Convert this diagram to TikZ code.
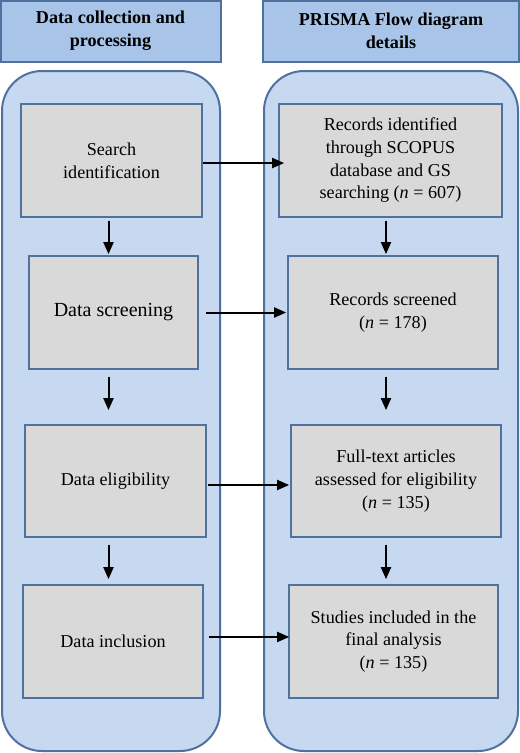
\documentclass[tikz,border=0pt]{standalone}
\usepackage{fontspec}
\setmainfont{Liberation Serif}
\usetikzlibrary{arrows.meta,positioning}
\definecolor{headblue}{RGB}{168,196,232}
\definecolor{panelblue}{RGB}{198,217,240}
\definecolor{edgeblue}{RGB}{79,113,160}
\definecolor{boxgray}{RGB}{217,217,217}
\tikzset{
	head/.style={draw=edgeblue,fill=headblue,line width=1.5pt,align=center,font=\bfseries\fontsize{13.6}{17}\selectfont},
	panel/.style={draw=edgeblue,fill=panelblue,line width=1.5pt,rounded corners=30pt},
	stage/.style={draw=edgeblue,fill=boxgray,line width=1.3pt,align=center,font=\fontsize{13.6}{17}\selectfont},
	arr/.style={line width=1.5pt,-{Triangle[length=9pt,width=7.5pt]}}
}
\begin{document}
\begin{tikzpicture}[x=0.75pt,y=0.75pt,yscale=-1,xscale=1]
		\useasboundingbox (0,0) rectangle (520,753);
		
		%Shape: Header
		\node[head,minimum width=165pt,minimum height=45.75pt] (hl) at (110.5,31) {Data collection and\\processing};
		%Shape: Header
		\node[head,minimum width=192pt,minimum height=45.75pt] (hr) at (391,31) {PRISMA Flow diagram\\details};
		
		%Shape: Rounded Rect
		\draw[panel] (2,71) rectangle (220,751);
		%Shape: Rounded Rect
		\draw[panel] (264,71) rectangle (518,751);
		
		% Text Node
		\node[stage,minimum width=135.75pt,minimum height=84.75pt] (s1) at (111.5,160.5) {Search\\identification};
		% Text Node
		\node[stage,minimum width=126.75pt,minimum height=84.75pt,font=\fontsize{15}{18}\selectfont] (s2) at (113.5,312.5) {Data screening};
		% Text Node
		\node[stage,minimum width=135.75pt,minimum height=84pt] (s3) at (115.5,481) {Data eligibility};
		% Text Node
		\node[stage,minimum width=135pt,minimum height=84.75pt] (s4) at (113,641.5) {Data inclusion};
		
		% Text Node
		\node[stage,minimum width=167.25pt,minimum height=84.75pt] (r1) at (390.5,160.5) {Records identified\\through SCOPUS\\database and GS\\searching (\textit{n} = 607)};
		% Text Node
		\node[stage,minimum width=157.5pt,minimum height=84.75pt] (r2) at (393,312.5) {Records screened\\(\textit{n} = 178)};
		% Text Node
		\node[stage,minimum width=157.5pt,minimum height=84pt] (r3) at (396,481) {Full-text articles\\assessed for eligibility\\(\textit{n} = 135)};
		% Text Node
		\node[stage,minimum width=156.75pt,minimum height=84.75pt] (r4) at (393.5,641.5) {Studies included in the\\final analysis\\(\textit{n} = 135)};
		
		\coordinate (lx) at (108.5,0);
		\coordinate (rx) at (386,0);
		
		%Straight Lines
		\draw[arr,shorten <=2.25pt,shorten >=0.75pt] (s1.south -| lx) -- (s2.north -| lx);
		\draw[arr,shorten <=5.25pt,shorten >=10.5pt] (s2.south -| lx) -- (s3.north -| lx);
		\draw[arr,shorten <=5.25pt,shorten >=3.75pt] (s3.south -| lx) -- (s4.north -| lx);
		
		\draw[arr,shorten <=2.25pt,shorten >=0.75pt] (r1.south -| rx) -- (r2.north -| rx);
		\draw[arr,shorten <=5.25pt,shorten >=10.5pt] (r2.south -| rx) -- (r3.north -| rx);
		\draw[arr,shorten <=5.25pt,shorten >=3.75pt] (r3.south -| rx) -- (r4.north -| rx);
		
		%Straight Lines
		\draw[arr,shorten >=-4.5pt] ([yshift=1.9pt]s1.east) -- ([yshift=1.9pt]r1.west);
		\draw[arr,shorten <=5.25pt,shorten >=0.75pt] (s2.east) -- (r2.west);
		\draw[arr,shorten <=0.75pt,shorten >=0.75pt] ([yshift=3pt]s3.east) -- ([yshift=3pt]r3.west);
		\draw[arr,shorten <=3.75pt,shorten >=-0.75pt] ([yshift=-3.4pt]s4.east) -- ([yshift=-3.4pt]r4.west);
		
\end{tikzpicture}
\end{document}
